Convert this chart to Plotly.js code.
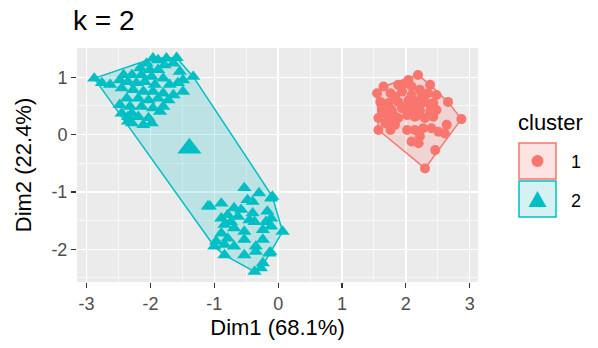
<!DOCTYPE html>
<html>
<head>
<meta charset="utf-8">
<script src="https://cdn.plot.ly/plotly-3.0.1.min.js"></script>
<style>html,body{margin:0;padding:0;background:#fff;}#chart{width:598px;height:348px;}</style>
</head>
<body>
<div id="chart"></div>
<script>
// ---- data ----
const cluster1X = [2.19,2.04,1.88,1.65,1.55,1.76,1.94,2.09,2.22,2.38,2.35,2.48,2.66,2.87,1.60,1.73,1.88,2.04,2.17,2.30,2.43,1.63,1.78,1.94,2.09,2.22,2.38,2.48,1.57,1.73,1.88,2.02,2.14,2.30,2.43,1.68,1.83,1.57,1.76,2.02,2.14,2.27,2.40,2.51,2.61,2.64,2.22,2.09,2.20,2.46,2.30,1.99,1.68,1.83,2.25,2.09,1.99,1.81,2.38];
const cluster1Y = [1.04,0.95,0.87,0.84,0.72,0.72,0.75,0.84,0.78,0.87,0.72,0.69,0.57,0.27,0.57,0.55,0.57,0.60,0.57,0.57,0.55,0.43,0.43,0.46,0.43,0.43,0.40,0.43,0.29,0.26,0.29,0.34,0.31,0.29,0.31,0.20,0.17,0.08,0.08,0.08,0.08,0.11,0.11,0.05,0.02,0.17,-0.03,-0.12,-0.15,-0.27,-0.59,0.49,0.37,0.66,0.66,0.69,0.89,0.34,0.52];
const cluster2X = [-2.88,-2.76,-2.63,-1.96,-1.88,-1.75,-1.59,-1.64,-1.78,-2.06,-2.16,-2.01,-1.88,-2.42,-2.29,-2.14,-1.98,-1.80,-1.54,-1.49,-1.33,-2.48,-2.35,-2.22,-2.09,-1.93,-1.70,-1.57,-2.45,-2.27,-2.11,-1.96,-1.80,-1.64,-1.49,-2.37,-2.19,-2.03,-1.88,-1.72,-2.48,-2.32,-2.14,-1.96,-1.80,-2.35,-2.19,-2.03,-2.29,-2.45,-2.29,-2.11,-1.98,-1.85,-2.35,
  -1.07,-0.89,-0.53,-0.30,-0.11,-0.48,-0.69,-0.40,-0.79,-0.63,-0.40,-0.17,-0.19,-0.37,0.07,-0.84,-0.69,-0.53,-0.89,-0.79,-1.00,-0.84,-0.69,-0.53,-0.24,-0.35,-0.14,-0.53,-0.84,-0.24,-0.37,-0.27,-0.58,-0.74,-0.45,-0.24,-0.11,-0.11,-0.35,-0.89,-0.97,-0.09,-1.10,-0.12];
const cluster2Y = [0.98,0.90,0.87,1.33,1.30,1.33,1.34,1.24,1.21,1.24,1.16,1.13,1.13,1.04,1.04,1.04,1.01,0.98,1.10,0.95,1.01,0.95,0.92,0.90,0.92,0.87,0.87,0.90,0.81,0.78,0.75,0.75,0.72,0.69,0.75,0.63,0.63,0.60,0.63,0.60,0.52,0.49,0.49,0.46,0.49,0.31,0.31,0.29,0.20,0.37,0.37,0.17,0.20,0.40,0.23,
  -1.25,-1.20,-0.93,-1.02,-1.11,-1.14,-1.28,-1.17,-1.40,-1.43,-1.37,-1.34,-1.52,-1.52,-1.69,-1.57,-1.63,-1.69,-1.72,-1.81,-1.95,-1.92,-1.95,-1.83,-1.83,-2.04,-2.07,-2.10,-2.10,-2.24,-2.39,-2.33,-1.31,-1.52,-1.49,-1.66,-1.60,-1.46,-1.95,-1.46,-1.86,-1.08,-1.25,-2.05];
const centroidX = [2.15, -1.39];
const centroidY = [0.40, -0.24];
const clusterNames = ["1", "2"];
const xTickVals = [-3, -2, -1, 0, 1, 2, 3];
const xTickText = ["-3", "-2", "-1", "0", "1", "2", "3"];
const yTickVals = [-2, -1, 0, 1];
const yTickText = ["-2", "-1", "0", "1"];
const chartTitle = "k = 2";
const xTitle = "Dim1 (68.1%)";
const yTitle = "Dim2 (22.4%)";
const legendTitle = "cluster";

// ---- styles ----
const red = "#F8766D", teal = "#00BFC4";
const redFill = "rgba(248,118,109,0.2)", tealFill = "rgba(0,191,196,0.2)";

function hull(xs, ys) {
  const pts = xs.map((x, i) => [x, ys[i]]).sort((a, b) => a[0] - b[0] || a[1] - b[1]);
  const cross = (o, a, b) => (a[0]-o[0])*(b[1]-o[1]) - (a[1]-o[1])*(b[0]-o[0]);
  const lower = [], upper = [];
  for (const p of pts) { while (lower.length >= 2 && cross(lower[lower.length-2], lower[lower.length-1], p) <= 0) lower.pop(); lower.push(p); }
  for (let i = pts.length - 1; i >= 0; i--) { const p = pts[i]; while (upper.length >= 2 && cross(upper[upper.length-2], upper[upper.length-1], p) <= 0) upper.pop(); upper.push(p); }
  upper.pop(); lower.pop();
  const h = lower.concat(upper); h.push(h[0]);
  return {x: h.map(p => p[0]), y: h.map(p => p[1])};
}
const h1 = hull(cluster1X, cluster1Y), h2 = hull(cluster2X, cluster2Y);

const traces = [
  {x: h1.x, y: h1.y, mode: "lines", fill: "toself", fillcolor: redFill, line: {color: red, width: 1.5}, hoverinfo: "skip"},
  {x: h2.x, y: h2.y, mode: "lines", fill: "toself", fillcolor: tealFill, line: {color: teal, width: 1.5}, hoverinfo: "skip"},
  {x: cluster1X, y: cluster1Y, mode: "markers", marker: {symbol: "circle", size: 10, color: red}},
  {x: cluster2X, y: cluster2Y, mode: "markers", marker: {symbol: "triangle-up", size: 12.5, color: teal}},
  {x: [centroidX[0]], y: [centroidY[0]], mode: "markers", marker: {symbol: "circle", size: 18, color: red}},
  {x: [centroidX[1]], y: [centroidY[1]], mode: "markers", marker: {symbol: "triangle-up", size: 21, color: teal}}
];

// plot area in pixels: left 77, right 478, top 48, bottom 282
const L = 77, R = 478, T = 48, B = 282;
const px = v => (v - L) / (R - L);
const py = v => (B - v) / (B - T);

const shapes = [
  {type: "rect", xref: "paper", yref: "paper", x0: px(519), x1: px(556), y0: py(179), y1: py(143), fillcolor: "#FDE4E2", line: {color: red, width: 1.5}},
  {type: "rect", xref: "paper", yref: "paper", x0: px(519), x1: px(556), y0: py(217), y1: py(181), fillcolor: "#D6F1F2", line: {color: teal, width: 1.5}},
  {type: "circle", xref: "paper", yref: "paper", xsizemode: "pixel", ysizemode: "pixel", xanchor: px(537.5), yanchor: py(161), x0: -6, x1: 6, y0: -6, y1: 6, fillcolor: red, line: {width: 0}},
  {type: "path", xref: "paper", yref: "paper", xsizemode: "pixel", ysizemode: "pixel", xanchor: px(537.5), yanchor: py(200), path: "M-9,-7L9,-7L0,9Z", fillcolor: teal, line: {width: 0}}
];

const annotations = [
  {text: legendTitle, xref: "paper", yref: "paper", x: px(516), y: py(122), xanchor: "left", yanchor: "middle", showarrow: false, font: {size: 22, color: "#000"}},
  {text: clusterNames[0], xref: "paper", yref: "paper", x: px(569), y: py(162), xanchor: "left", yanchor: "middle", showarrow: false, font: {size: 18, color: "#000"}},
  {text: clusterNames[1], xref: "paper", yref: "paper", x: px(569), y: py(201), xanchor: "left", yanchor: "middle", showarrow: false, font: {size: 18, color: "#000"}}
];

const axisCommon = {
  showline: false, zeroline: false, gridcolor: "#FFFFFF", gridwidth: 1.3,
  ticks: "outside", ticklen: 5, tickwidth: 1.2, tickcolor: "#333333",
  tickfont: {size: 18, color: "#4D4D4D"},
  tickmode: "array",
  minor: {tickmode: "linear", tick0: 0, dtick: 0.5, showgrid: true, gridcolor: "#FFFFFF", gridwidth: 0.6, ticks: ""}
};

const layout = {
  width: 598, height: 348,
  margin: {l: L, r: 598 - R, t: T, b: 348 - B, pad: 0},
  paper_bgcolor: "#FFFFFF", plot_bgcolor: "#EBEBEB",
  font: {family: "Liberation Sans, Arial, sans-serif", color: "#000"},
  showlegend: false,
  title: {text: chartTitle, x: 73/598, xanchor: "left", xref: "container", y: 1 - 20/348, yanchor: "middle", font: {size: 28, color: "#000"}},
  xaxis: Object.assign({}, axisCommon, {range: [-3.15, 3.13], tickvals: xTickVals, ticktext: xTickText,
    title: {text: xTitle, font: {size: 22, color: "#000"}, standoff: 7}}),
  yaxis: Object.assign({}, axisCommon, {range: [-2.57, 1.51], tickvals: yTickVals, ticktext: yTickText,
    title: {text: yTitle, font: {size: 22, color: "#000"}, standoff: 13}}),
  shapes: shapes,
  annotations: annotations
};

Plotly.newPlot("chart", traces, layout, {staticPlot: true, displayModeBar: false});
</script>
</body>
</html>
